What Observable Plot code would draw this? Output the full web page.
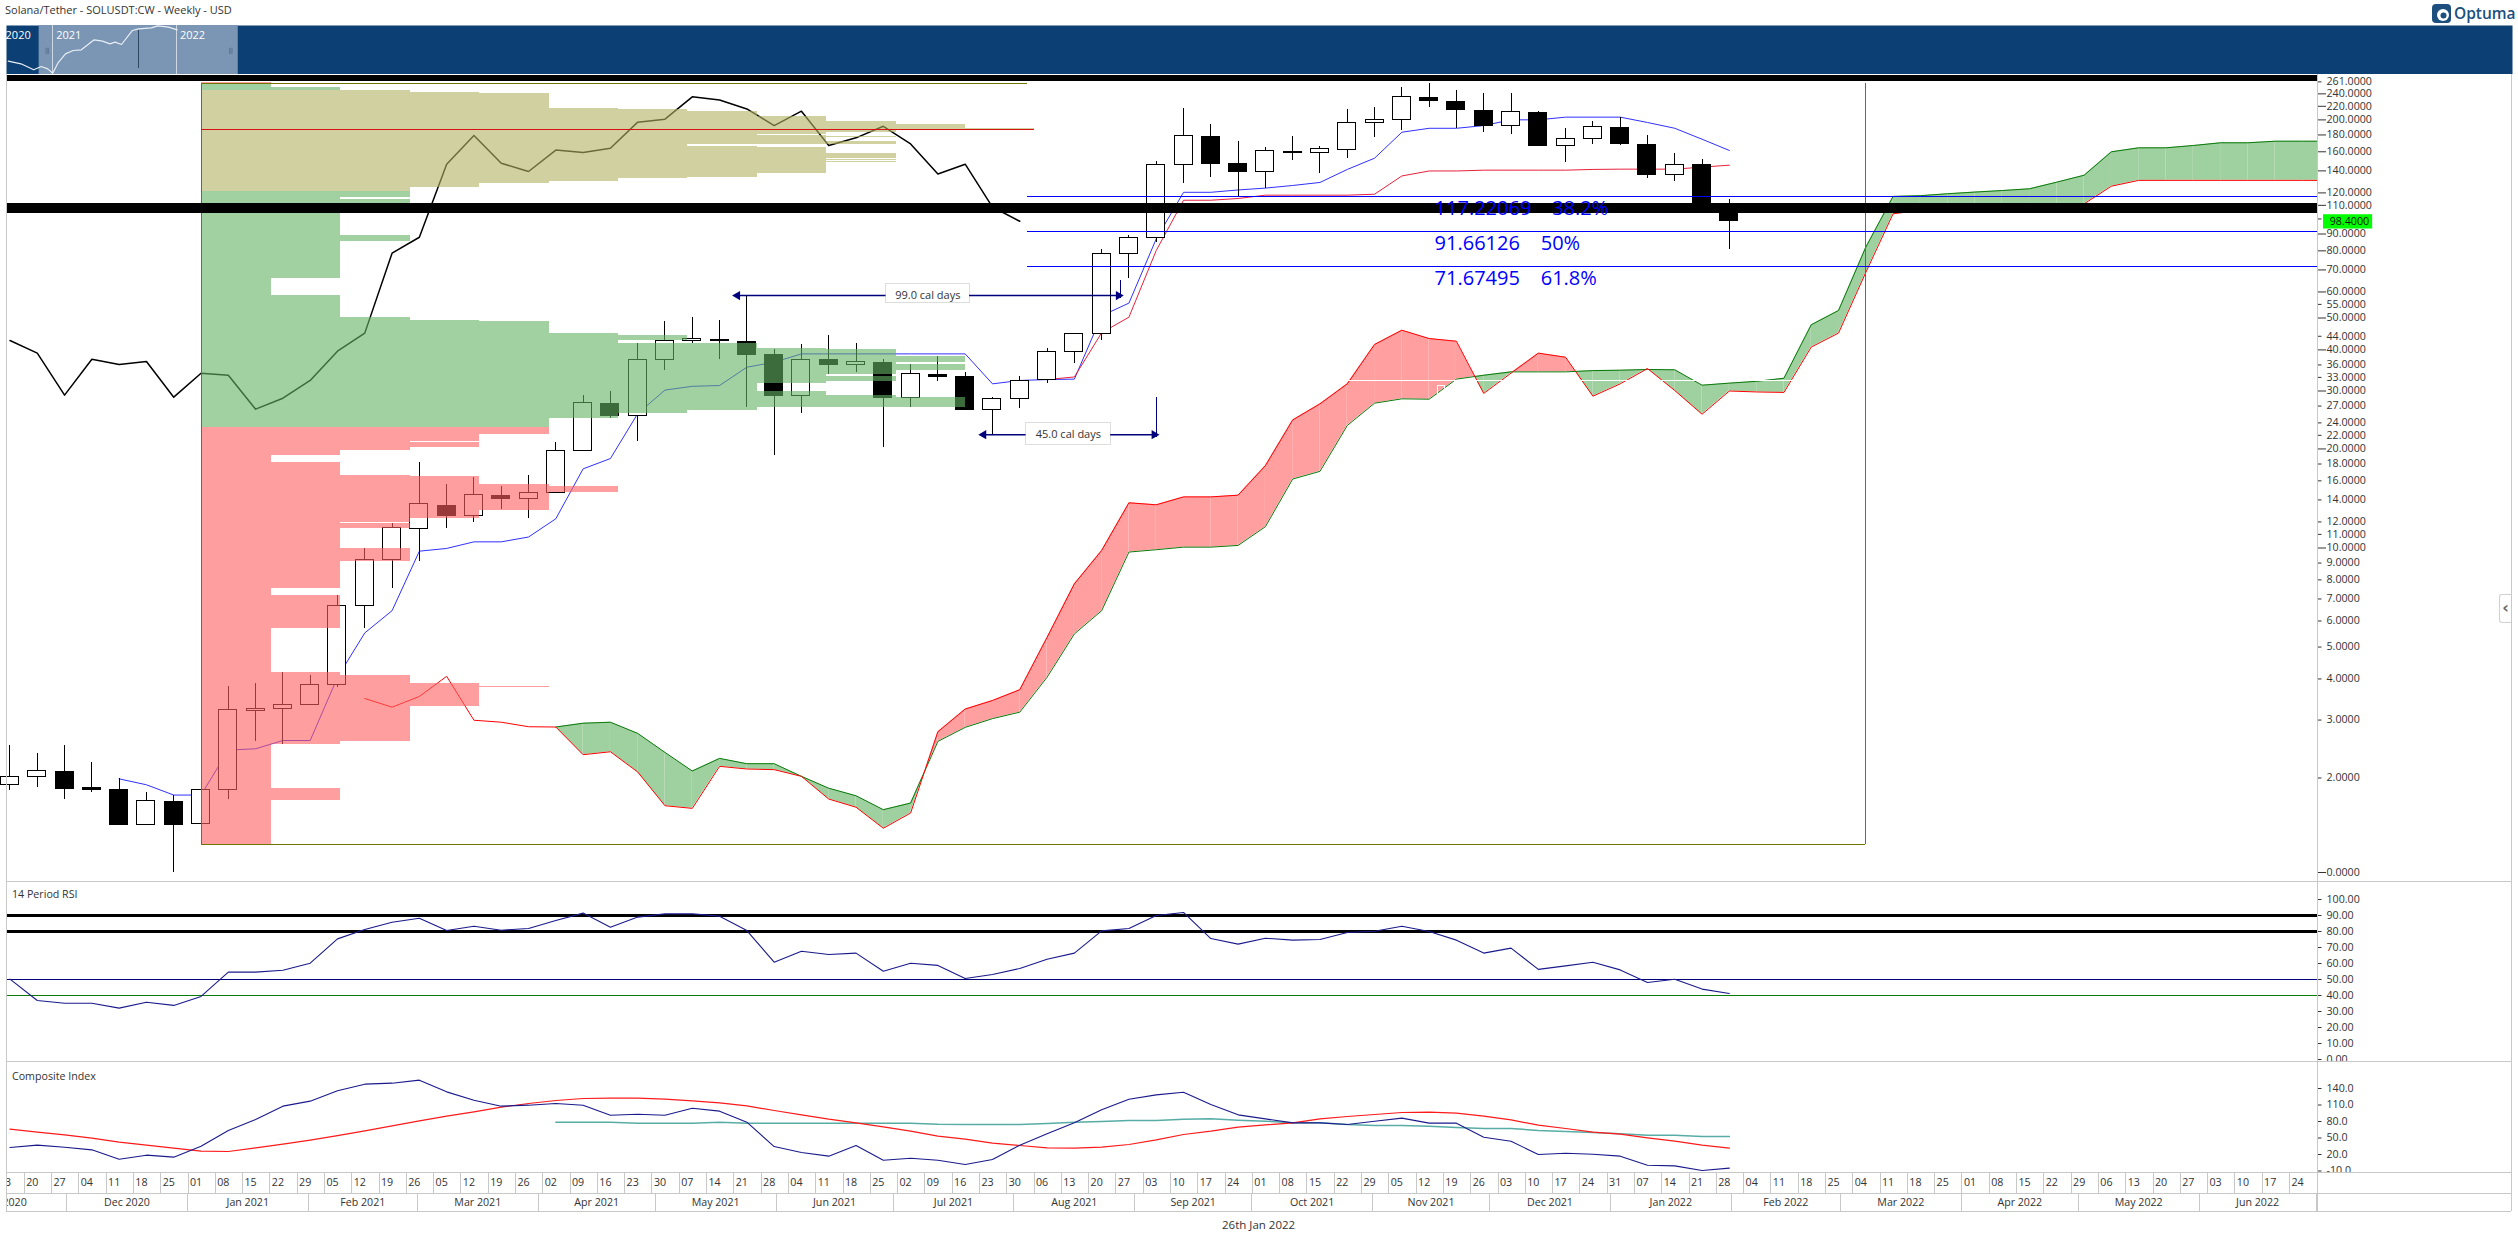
<!DOCTYPE html>
<html>
<head>
<meta charset="utf-8">
<script src="https://cdn.jsdelivr.net/npm/d3@7"></script>
<script src="https://cdn.jsdelivr.net/npm/@observablehq/plot@0.6"></script>
<style>
html,body{margin:0;padding:0;background:#fff;}
#page{position:relative;width:2518px;height:1244px;overflow:hidden;font-family:'Open Sans',sans-serif;color:#333;background:#fff;}
#page svg{position:absolute;left:0;}
.t{position:absolute;white-space:pre;}
.ln{position:absolute;background:#c8c8c8;}
</style>
</head>
<body>
<div id="page"></div>
<script>
// ---------- weekly candles, 13 Nov 2020 onward ----------
const opens=[1.907,2.019,2.09,1.86,1.845,1.441,1.686,1.451,1.841,3.195,3.24,3.337,3.843,6.676,9.21,11.43,13.43,12.53,14.41,14.10,14.71,19.74,27.42,25.21,37.31,42.5,43.0,42.3,38.73,28.93,37.14,35.94,36.62,28.6,33.67,33.2,26.3,28.4,32.35,39.46,44.77,78.35,87.6,146.1,178.0,146.4,138.8,160.0,158.5,162.3,195.5,200.1,233.4,227,213.6,191.3,210.1,166.4,175.1,189.5,168.3,135.8,145.4,107.4];
const highs=[2.507,2.37,2.507,2.225,1.988,1.807,1.766,1.841,3.80,3.88,4.18,4.094,7.154,9.945,11.84,18.19,15.6,16.41,15.38,16.6,20.97,29.07,29.89,41.74,48.79,50.2,49.14,58.5,40.0,41.55,44.25,41.74,37.48,36.1,38.2,34.14,28.6,33.2,40.4,44.9,80.76,88.85,149.5,216.6,193.7,171.9,164.9,178.0,166.1,215.1,218,250.9,258,245.7,240.3,239.8,211.6,188.1,198,203.9,179.3,158.2,151.5,114.6];
const lows=[1.832,1.876,1.726,1.807,1.437,1.437,1.033,1.259,1.726,2.584,2.536,3.337,3.763,5.70,7.55,9.10,11.49,11.98,13.09,12.32,14.6,19.6,24.81,21.12,34.62,41.74,37.48,26.66,19.14,25.69,33.67,34.14,20.25,26.79,32.1,26.3,21.97,26.54,31.7,36.28,42.8,65.9,85.0,128.2,133.7,116.5,124.1,150.4,137.4,152.6,176.8,185.7,218,188.6,183,180.6,166.4,148.4,168.3,167,133,129.9,107,80.76];
const closes=[2.014,2.105,1.85,1.845,1.437,1.706,1.437,1.841,3.223,3.24,3.337,3.843,6.676,9.21,11.52,13.62,12.49,14.51,14.07,14.71,19.78,27.62,25.1,37.31,42.63,43.23,42.5,38.73,28.93,37.31,35.94,36.79,28.47,33.82,33.2,26.3,28.4,32.1,39.46,44.77,78.35,87.6,146.1,178.9,146.7,138.8,161.1,158.5,163.4,196,200.1,235,228.6,214.1,191.3,211.6,166.4,175.1,189.9,168.7,135.8,146.1,107.4,98.4];

// ---------- Ichimoku ----------
const kumoStart=13;
const spanA=[3.488,3.283,3.538,4.074,2.996,2.955,2.863,2.857,2.934,2.955,2.733,2.392,2.10,2.294,2.21,2.21,2.023,1.862,1.766,1.602,1.678,2.584,2.85,3.03,3.17,4.047,5.48,6.45,9.72,9.88,10.06,10.06,10.18,11.61,16.2,17.1,23.57,27.55,28.4,28.33,32.6,33.5,34.3,34.3,34.3,34.6,34.7,34.87,34.8,31.25,31.7,32.1,32.8,47.67,52.7,82.1,117.1,117.7,119.3,120.7,122,123.5,129.4,135.8,160,164.5,164.5,167.2,170.4,170.4,172.3,172.3,172.3];
const spanB=[3.488,3.283,3.538,4.074,2.996,2.955,2.863,2.857,2.354,2.403,2.086,1.647,1.617,2.17,2.13,2.12,2.023,1.726,1.63,1.407,1.565,2.765,3.24,3.44,3.71,5.35,7.78,9.83,13.72,13.53,14.3,14.3,14.47,17.8,24.5,27.42,31.54,41.55,45.9,43.3,42.5,29.5,34.0,39.1,38.0,28.93,31.54,35.1,30.1,25.5,30.0,29.8,29.7,40.8,45.0,68.8,103.7,106.2,106.7,107.2,107.4,107.7,108,111.2,125.8,131,131,131,131,131,131,131,131];
const chikou=[42.73,39.1,29.14,37.48,36.1,36.9,28.73,33.98,33.5,26.42,28.53,32.3,39.64,44.98,78.7,87.98,146.7,179.3,147.7,139.4,161.9,159.3,164.1,196.9,201,235,230,215.9,192.2,212.6,167.2,176.4,191.3,169.1,136.9,146.7,108.7,98.4];
const tenkanStart=4;
const tenkan=[1.988,1.907,1.775,1.775,2.43,2.454,2.6,2.6,4.047,5.52,6.45,9.78,9.97,10.44,10.44,10.8,12.27,17.4,18.7,25.6,30.2,31.0,31.17,35.44,36.7,38.9,38.9,38.9,38.9,38.9,38.9,38.9,31.54,32.3,32.5,32.6,50.8,55.5,87,120.5,120.5,122.5,124.1,126.4,129.1,141.4,153,183.5,188.6,188.6,192.2,200.1,200.1,203.9,203.9,203.9,196.4,188.6,174.7,161.5];
const kijunStart=38;
const kijun=[32.5,33.1,45.1,50.3,80.2,114,114,115.4,118.1,118.1,118.1,118.1,118.9,135.1,139.9,139.9,140.7,140.7,140.7,140.7,141.4,141.7,141.7,141.7,143.7,145.7];

// ---------- volume profile (price edges, and width of each row between edges) ----------
const profileEdges=[259.8,257.4,250.9,245.7,242.3,240.6,216.6,215.1,212.1,204.9,197.9,193.7,188.4,187.1,183.1,180.6,179.3,178.1,176.8,172,168.4,166.1,164.9,158.2,152.6,151.6,150.5,149.5,148.4,137.4,133.6,132.7,130,128.2,124.7,121.3,116.3,114.7,111.4,89.1,85.4,65.9,58.6,50.2,49.1,48.8,44.9,44.25,42.75,41.85,40.4,40.1,38.2,36.55,36.1,34.6,33.65,33.2,32.15,31.7,30,29.1,28.6,26.65,26.15,25.6,24.75,23.2,22.1,21,20.87,20.15,19.78,19.1,18.2,16.6,16.45,15.6,15.35,14.75,12.98,12.32,11.98,11.9,11.45,9.97,9.1,7.53,7.15,5.7,4.18,4.09,3.88,3.80,3.77,3.3,2.58,2.53,1.86,1.71,1.26];
const profileWidths=[1,1,2,3,4,5,6,7,8,9,10,11,12,10,9,8,9,10,9,10,7,8,9,10,9,10,9,10,9,8,7,6,5,4,3,3,2,3,2,3,2,1,2,3,4,5,6,7,6,8,9,10,11,10,11,10,9,10,9,8,9,10,11,8,7,6,5,5,4,3,4,3,2,1,2,3,4,5,6,5,4,3,2,3,2,3,2,1,2,1,2,3,4,5,4,3,2,1,2,1];
const valueAreaHigh=245.7, valueAreaLow=121.3, greenLow=23.2, greenHigh=257.4;
const pocPrice=186.6, rangeHigh=258, rangeLow=1.26;
const rangeFirstWeek=7.035, rangeLastWeek=68, profileUnitWeeks=2.543;

// ---------- fibonacci, levels, measurements ----------
const fibPrices=[117.22069,91.66126,71.67495];
const fibLabels=["117.22069    38.2%","91.66126    50%","71.67495    61.8%"];
const heavyLevels=[107.7];
const topLevel=269;
const lastPrice=98.4;
const measures=[{from:26.58,to:40.69,price:58.5,topP:65,botP:57.2,label:"99.0 cal days",bx1:32.1,bx2:35.16,by1:55.5,by2:63.6},
                {from:35.6,to:42.0,price:22.1,topP:28.7,botP:21.7,label:"45.0 cal days",bx1:37.23,bx2:40.33,by1:20.6,by2:24}];
const whiteRulePrice=32.3;
const whiteMark={x1:52.31,x2:52.57,y1:29.4,y2:31.17};

// ---------- axes ----------
const majorTicks=[240,220,200,180,160,140,120,110,90,80,70,60,50,40,30,20,10];
const zeroTick=1.0322;
const minorTicks=[261,55,44,36,33,27,24,22,18,16,14,12,11,9,8,7,6,5,4,3,2];
const unlabelledTicks=[100];
const rsiTicks=[100,90,80,70,60,50,40,30,20,10,0];
const compTicks=[140,110,80,50,20,-10];
const dayLabels=["13","20","27","04","11","18","25","01","08","15","22","29","05","12","19","26","05","12","19","26","02","09","16","23","30","07","14","21","28","04","11","18","25","02","09","16","23","30","06","13","20","27","03","10","17","24","01","08","15","22","29","05","12","19","26","03","10","17","24","31","07","14","21","28","04","11","18","25","04","11","18","25","01","08","15","22","29","06","13","20","27","03","10","17","24"];
const monthStarts=["2020-12-01","2021-01-01","2021-02-01","2021-03-01","2021-04-01","2021-05-01","2021-06-01","2021-07-01","2021-08-01","2021-09-01","2021-10-01","2021-11-01","2021-12-01","2022-01-01","2022-02-01","2022-03-01","2022-04-01","2022-05-01","2022-06-01","2022-07-01"];
const monthLabels=["Dec 2020","Jan 2021","Feb 2021","Mar 2021","Apr 2021","May 2021","Jun 2021","Jul 2021","Aug 2021","Sep 2021","Oct 2021","Nov 2021","Dec 2021","Jan 2022","Feb 2022","Mar 2022","Apr 2022","May 2022","Jun 2022"];
const firstMonthLabel="Nov 2020", firstMonthWeek=0.05;

// ---------- RSI ----------
const rsi=[50.2,36.9,35.2,35.2,32.1,35.8,33.8,39.4,54.6,54.6,55.8,60.2,75.4,81.3,85.8,88.3,80.6,83.3,80.8,81.9,86.9,91.5,82.7,89.0,91.0,91.0,89.6,80.6,60.8,67.7,65.6,66.5,55.2,60.2,58.8,50.6,53.1,56.9,62.7,66.5,80.4,81.9,90,91.9,75.6,72.1,75.8,74.6,75,79.4,80.2,83.3,80,74.6,66.5,69.6,56.3,58.5,60.8,56,48.1,50.2,44,41.3];
const rsiLevels=[{v:90,c:"#000",w:3},{v:80,c:"#000",w:3},{v:50,c:"#00007d",w:1},{v:40,c:"#0a7a0a",w:1}];

// ---------- composite index ----------
const comp=[32.7,37,33.3,28.5,11.5,18.8,15.2,35.2,63.6,83.6,107.9,117,135.8,147.9,149.7,155.2,133.9,118.8,107.9,109.7,112.7,109.7,91.5,93.3,91.5,104.2,98.8,78.8,34.5,23.6,17,36.4,9.7,13.3,9.7,1.8,10.9,37,57.6,77.6,101.2,120.6,128.5,133.3,110.9,92.1,84.8,77.6,77.6,74.5,80.6,86.1,77,77,51.5,44.2,20,22.4,20.6,17,0.6,-0.6,-9.1,-4.8];
const compFast=[66.1,60.6,55.8,49.7,42.4,37,31.5,26.1,25.5,32.1,38.8,46.1,54.5,63,72.1,81.2,89.7,97.6,106.1,112.7,118.2,121.8,122.4,122.4,120.6,117.6,113.9,108.5,100,92.1,84.2,77.6,70.3,62.4,53.3,47.9,40.6,36.4,32.1,31.5,33.3,38.2,46.7,56.4,62.4,69.7,73.9,77.6,84.8,89.1,92.7,96.4,97,95.1,89.7,83,73.3,67.3,60.6,57,50.3,44.2,37,31.5];
const compSlowStart=20;
const compSlow=[78.8,78.8,78.8,77,77,77,78.8,77,77,77,77,77,77,77,75.1,74.5,74.5,74.5,76.4,78.8,80,81.8,81.8,84.2,84.8,82.4,80.6,77.6,77.6,74.5,72.7,72.7,71.5,69.1,67.3,67.3,63.6,61.8,60,57.6,55.1,55.1,52.7,52.7];

// ---------- navigator ----------
const navYears=[2021,2022];
const navYearLabels=[{t:"2020",x:2020.72},{t:"2021",x:2021.13},{t:"2022",x:2022.13}];
const navWindow=[2020.89,2022.5];
const navX=[2020.640,2020.743,2020.846,2020.907,2020.959,2021.0,2021.041,2021.103,2021.165,2021.231,2021.335,2021.402,2021.463,2021.504,2021.556,2021.643,2021.694,2021.797,2021.849,2021.936,2022.006];
const navY=[3.59,2.6,1.26,1.88,1.42,.84,2.82,8.7,13,14.1,47.3,40.3,29.2,35.7,26.9,146,179,202,257,219,158];

// ---------- colours ----------
const GREEN="#9fd09f", PINK="#ff9f9f";
const OV_GREEN="rgb(99,177,99)", OV_RED="rgb(255,95,95)", OV_KHAKI="rgb(177,177,97)", OLIVE="#737300", NAVY="#00007d";

const page=document.getElementById("page");
const font="'Open Sans',sans-serif";
const xDomain=[-0.128,84.55];
const crisp="crispEdges";
const baseStyle={fontFamily:font,fontSize:"10.67px",color:"#333",background:"transparent"};
function place(svg,top){svg.style.top=top+"px";svg.style.maxWidth="none";page.appendChild(svg);return svg;}
function label(text,css){const d=document.createElement("div");d.className="t";d.textContent=text;Object.assign(d.style,css);page.appendChild(d);return d;}
function hline(y,x1,x2){const d=document.createElement("div");d.className="ln";Object.assign(d.style,{left:x1+"px",top:y+"px",width:(x2-x1)+"px",height:"1px"});page.appendChild(d);}
function vline(x,y1,y2){const d=document.createElement("div");d.className="ln";Object.assign(d.style,{left:x+"px",top:y1+"px",width:"1px",height:(y2-y1)+"px"});page.appendChild(d);}

// ---------- tables ----------
const candles=d3.range(opens.length).map(i=>({i,o:opens[i],h:highs[i],l:lows[i],c:closes[i]}));
const cloud=spanA.map((a,k)=>({i:k+kumoStart,a,b:spanB[k]}));
const cloudSegs=[];
{
  let seg=0;
  for(let k=0;k+1<cloud.length;k++){
    const p=cloud[k],q=cloud[k+1];
    const d0=Math.log(p.a/p.b),d1=Math.log(q.a/q.b);
    if(d0===0&&d1===0) continue;
    if(d0*d1<0){
      const t=d0/(d0-d1);
      const x=p.i+t*(q.i-p.i);
      const y=Math.exp(Math.log(p.a)+t*(Math.log(q.a)-Math.log(p.a)));
      const s0=d0>0?"up":"dn",s1=d1>0?"up":"dn";
      cloudSegs.push({i:p.i,a:p.a,b:p.b,seg,kind:s0},{i:x,a:y,b:y,seg,kind:s0});
      seg++;
      cloudSegs.push({i:x,a:y,b:y,seg,kind:s1},{i:q.i,a:q.a,b:q.b,seg,kind:s1});
      seg++;
    } else {
      const kind=(d0+d1)>0?"up":"dn";
      cloudSegs.push({i:p.i,a:p.a,b:p.b,seg,kind},{i:q.i,a:q.a,b:q.b,seg,kind});
      seg++;
    }
  }
}
const profile=profileWidths.map((n,k)=>{
  const top=profileEdges[k],bot=profileEdges[k+1],mid=Math.sqrt(top*bot);
  const fill=(mid>valueAreaLow&&mid<valueAreaHigh)?OV_KHAKI:((mid>=greenLow&&mid<=greenHigh)?OV_GREEN:OV_RED);
  return {top,bot,x2:rangeFirstWeek+n*profileUnitWeeks,fill};
});
const chikouT=chikou.map((v,i)=>({i,v}));
const tenkanT=tenkan.map((v,k)=>({i:k+tenkanStart,v}));
const kijunT=kijun.map((v,k)=>({i:k+kijunStart,v}));

// ---------- main panel ----------
const mainTop=74,mainH=807;
place(Plot.plot({
  width:2518,height:mainH,marginLeft:6,marginRight:201,marginTop:0,marginBottom:0,
  style:baseStyle,
  x:{domain:xDomain,axis:null},
  y:{type:"log",domain:[0.9693,274.8],axis:null},
  marks:[
    Plot.areaY(cloudSegs,{x:"i",y1:"a",y2:"b",z:"seg",fill:d=>d.kind==="up"?GREEN:PINK,clip:true}),
    Plot.line(cloud.filter(d=>d.i>=20),{x:"i",y:"a",stroke:"#0a7a0a",strokeWidth:1,clip:true}),
    Plot.line(cloud,{x:"i",y:"b",stroke:"#ff0000",strokeWidth:1,clip:true}),
    Plot.line(chikouT,{x:"i",y:"v",stroke:"#000",strokeWidth:1.5}),
    Plot.line(tenkanT,{x:"i",y:"v",stroke:"#3030ff",strokeWidth:1}),
    Plot.line(kijunT,{x:"i",y:"v",stroke:"#e8203c",strokeWidth:1}),
    Plot.ruleX(candles,{x:"i",y1:"l",y2:"h",stroke:"#000",strokeWidth:1,shapeRendering:crisp}),
    Plot.rect(candles,{x1:d=>d.i-0.33,x2:d=>d.i+0.33,y1:"o",y2:"c",fill:d=>d.c>=d.o?"#fff":"#000",stroke:"#000",strokeWidth:1,shapeRendering:crisp}),
    Plot.rect(profile,{x1:rangeFirstWeek,x2:"x2",y1:"bot",y2:"top",fill:"fill",fillOpacity:0.605,shapeRendering:crisp}),
    // measuring tools
    Plot.rect(measures,{x1:"bx1",x2:"bx2",y1:"by1",y2:"by2",fill:"#fff",stroke:"#ddd",strokeWidth:1,shapeRendering:crisp}),
    ...measures.flatMap(m=>[
      Plot.ruleY([m.price],{x1:m.from,x2:m.bx1,stroke:NAVY,strokeWidth:1.5}),
      Plot.ruleY([m.price],{x1:m.bx2,x2:m.to,stroke:NAVY,strokeWidth:1.5}),
      Plot.ruleX([m.to],{y1:m.botP,y2:m.topP,stroke:NAVY,strokeWidth:1,shapeRendering:crisp}),
      Plot.dot([m],{x:"from",y:"price",symbol:"triangle",rotate:-90,r:3.4,fill:NAVY,stroke:null,dx:2}),
      Plot.dot([m],{x:"to",y:"price",symbol:"triangle",rotate:90,r:3.4,fill:NAVY,stroke:null,dx:-2})
    ]),
    Plot.text(measures,{x:d=>(d.bx1+d.bx2)/2,y:"price",text:"label",fill:"#333",fontSize:11}),
    // range box
    Plot.ruleY([rangeHigh],{x1:rangeFirstWeek,x2:37.3,stroke:OLIVE,strokeWidth:1,shapeRendering:crisp}),
    Plot.ruleY([rangeLow],{x1:rangeFirstWeek,x2:rangeLastWeek,stroke:OLIVE,strokeWidth:1,shapeRendering:crisp}),
    Plot.ruleX([rangeFirstWeek,rangeLastWeek],{y1:rangeLow,y2:rangeHigh,stroke:OLIVE,strokeWidth:1,shapeRendering:crisp}),
    Plot.ruleY([pocPrice],{x1:rangeFirstWeek,x2:37.53,stroke:"#d81010",strokeWidth:1,shapeRendering:crisp}),
    Plot.ruleY([whiteRulePrice],{x1:49,x2:68,stroke:"#fff",strokeWidth:1,shapeRendering:crisp}),
    Plot.rect([whiteMark],{x1:"x1",x2:"x2",y1:"y1",y2:"y2",fill:null,stroke:"#fff",strokeWidth:1,shapeRendering:crisp}),
    // fib lines
    Plot.ruleY(fibPrices,{x1:37.3,x2:xDomain[1],stroke:"#0000ff",strokeWidth:1,shapeRendering:crisp}),
    // heavy levels
    Plot.ruleY(heavyLevels,{stroke:"#000",strokeWidth:10,shapeRendering:crisp}),
    Plot.ruleY([topLevel],{stroke:"#000",strokeWidth:6,shapeRendering:crisp}),
    Plot.text(fibPrices,{x:52.2,y:d=>d,text:(d,k)=>fibLabels[k],textAnchor:"start",dy:12.5,fill:"#0000ff",fontSize:20}),
    // price axis
    Plot.axisY([...majorTicks,zeroTick],{anchor:"right",tickSize:8,tickPadding:1,label:null,tickFormat:d=>d===zeroTick?"0.0000":d.toFixed(4)}),
    Plot.axisY(minorTicks,{anchor:"right",tickSize:3.5,tickPadding:5.5,label:null,tickFormat:d=>d.toFixed(4)}),
    Plot.axisY(unlabelledTicks,{anchor:"right",tickSize:3.5,label:null,tickFormat:()=>""}),
    Plot.rect([lastPrice],{x1:84.77,x2:86.57,y1:93.2,y2:103,fill:"#00ff00"}),
    Plot.text([lastPrice],{x:85.0,y:d=>d,text:d=>d.toFixed(4),textAnchor:"start",fill:"#111",fontSize:10.67})
  ]
}),mainTop);

// ---------- RSI panel ----------
place(Plot.plot({
  width:2518,height:180,marginLeft:6,marginRight:201,marginTop:0,marginBottom:0,
  style:baseStyle,
  x:{domain:xDomain,axis:null},
  y:{domain:[-1.25,111.25],axis:null},
  marks:[
    ...rsiLevels.map(l=>Plot.ruleY([l.v],{stroke:l.c,strokeWidth:l.w,shapeRendering:crisp})),
    Plot.line(rsi,{x:(d,i)=>i,y:d=>d,stroke:"#1a1a8c",strokeWidth:1.1}),
    Plot.axisY(rsiTicks,{anchor:"right",tickSize:3.5,tickPadding:5.5,label:null,tickFormat:d=>d.toFixed(2)})
  ]
}),881);

// ---------- composite panel ----------
place(Plot.plot({
  width:2518,height:111,marginLeft:6,marginRight:201,marginTop:0,marginBottom:0,
  style:baseStyle,
  x:{domain:xDomain,axis:null},
  y:{domain:[-12.7,189.1],axis:null},
  marks:[
    Plot.line(compSlow,{x:(d,k)=>k+compSlowStart,y:d=>d,stroke:"#57ada6",strokeWidth:1.5}),
    Plot.line(compFast,{x:(d,i)=>i,y:d=>d,stroke:"#ff1a1a",strokeWidth:1.2}),
    Plot.line(comp,{x:(d,i)=>i,y:d=>d,stroke:"#1a1a8c",strokeWidth:1.1}),
    Plot.axisY(compTicks,{anchor:"right",tickSize:3.5,tickPadding:5.5,label:null,tickFormat:d=>d.toFixed(1)})
  ]
}),1061);

// ---------- date rows ----------
const weekOf=s=>(new Date(s+"T00:00:00Z")-new Date("2020-11-13T00:00:00Z"))/(7*864e5);
place(Plot.plot({
  width:2518,height:21,marginLeft:6,marginRight:201,marginTop:0,marginBottom:0,
  style:baseStyle,x:{domain:xDomain,axis:null},
  marks:[
    Plot.ruleX(dayLabels,{x:(d,i)=>i,dx:-13,stroke:"#c8c8c8",strokeWidth:1,clip:true,shapeRendering:crisp}),
    Plot.text(dayLabels,{x:(d,i)=>i,text:d=>d,frameAnchor:"middle",dx:-5,fill:"#333",clip:true})
  ]
}),1172);
const monthWeeks=monthStarts.map(weekOf);
place(Plot.plot({
  width:2518,height:18,marginLeft:6,marginRight:201,marginTop:0,marginBottom:0,
  style:baseStyle,x:{domain:xDomain,axis:null},
  marks:[
    Plot.ruleX(monthWeeks,{x:d=>d,dx:-13.7,stroke:"#c8c8c8",strokeWidth:1,shapeRendering:crisp}),
    Plot.text(monthLabels,{x:(d,k)=>(monthWeeks[k]+monthWeeks[k+1])/2,text:d=>d,frameAnchor:"middle",dx:-13.7,fill:"#333",clip:true}),
    Plot.text([firstMonthLabel],{x:firstMonthWeek,text:d=>d,frameAnchor:"middle",dx:-8,fill:"#333",clip:true})
  ]
}),1193);

// ---------- navigator ----------
const navData=navX.map((x,k)=>({x,y:navY[k]}));
place(Plot.plot({
  width:2518,height:49,marginLeft:6,marginRight:6,marginTop:0,marginBottom:0,
  style:baseStyle,
  x:{domain:[2020.626,2040.89],axis:null},
  y:{type:"log",domain:[0.716,267.6],axis:null},
  marks:[
    Plot.frame({fill:"#0c3f73",stroke:null}),
    Plot.rectX([navWindow],{x1:d=>d[0],x2:d=>d[1],fill:"#7a96b4"}),
    Plot.ruleX(navYears,{stroke:"#cdd8e4",strokeWidth:1,shapeRendering:crisp}),
    Plot.ruleX([2021.69],{y1:1.42,y2:146,stroke:"#2d4660",strokeWidth:1,shapeRendering:crisp}),
    Plot.line(navData,{x:"x",y:"y",stroke:"#e8eef4",strokeWidth:1.2}),
    Plot.text(navYearLabels,{x:"x",text:"t",frameAnchor:"top",dy:6,fill:"#fff",fontSize:11}),
    Plot.ruleX([2020.945,2020.955,2020.965,2022.43,2022.44,2022.45],{y1:8,y2:17,stroke:"#5f7a96",strokeWidth:1})
  ]
}),25);

// ---------- chrome ----------
hline(881,6,2511);hline(1061,6,2511);hline(1172,6,2511);hline(1193,6,2511);hline(1211,6,2511);
vline(6,74,1211);vline(2317,74,1211);vline(2511,74,1211);
label("Solana/Tether - SOLUSDT:CW - Weekly - USD",{left:"5px",top:"1px",fontSize:"11px",lineHeight:"18px",color:"#333"});
label("26th Jan 2022",{left:"1222px",top:"1217px",fontSize:"11.5px",lineHeight:"16px",color:"#333"});
label("14 Period RSI",{left:"12px",top:"886px",fontSize:"10.67px",lineHeight:"16px",color:"#333"});
label("Composite Index",{left:"12px",top:"1068px",fontSize:"10.67px",lineHeight:"16px",color:"#333"});
const logo=document.createElement("div");
logo.style.cssText="position:absolute;left:2432px;top:3px;width:20px;height:21px;";
logo.innerHTML='<svg width="20" height="21" viewBox="0 0 20 21" style="position:static"><rect x="0" y="1" width="19" height="19" rx="4" fill="#1c4f7d"/><circle cx="11" cy="12" r="6" fill="#fff"/><circle cx="11.5" cy="12.5" r="3" fill="#1c4f7d"/></svg>';
page.appendChild(logo);
label("Optuma",{left:"2454px",top:"2px",fontSize:"15.5px",lineHeight:"22px",fontWeight:"600",color:"#1c4f7d"});
const tab=document.createElement("div");
tab.style.cssText="position:absolute;left:2499px;top:594px;width:12px;height:29px;border:1px solid #d0d0d0;border-right:none;border-radius:3px 0 0 3px;box-sizing:border-box;background:#fff;color:#666;font:bold 16px/25px 'DejaVu Sans';text-align:center;";
tab.textContent="‹";
page.appendChild(tab);
</script>
</body>
</html>
